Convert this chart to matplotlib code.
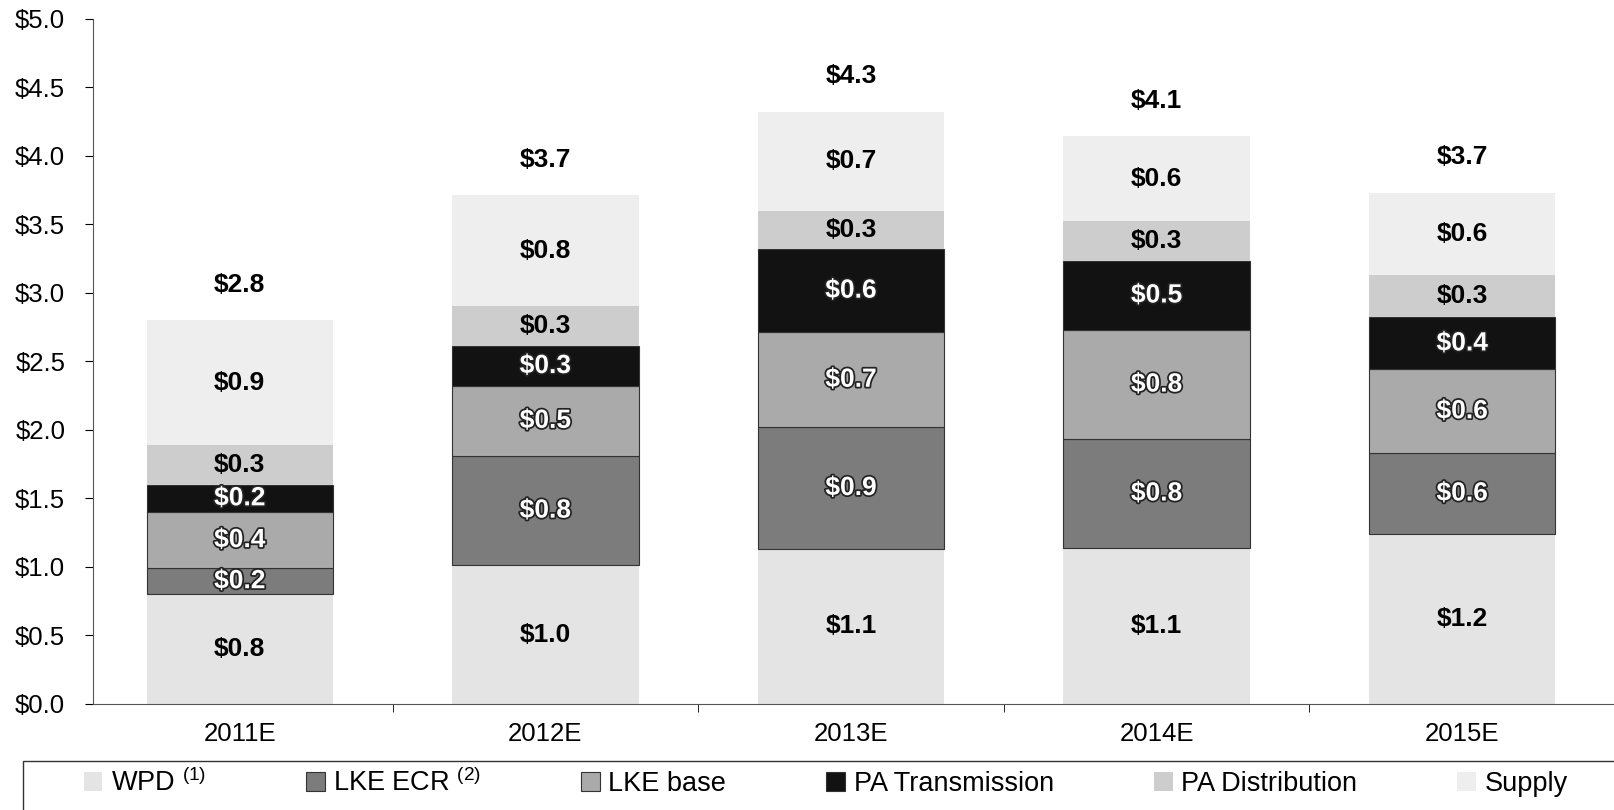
import matplotlib
matplotlib.use("Agg")
import matplotlib.pyplot as plt
import matplotlib.patheffects as pe
from matplotlib.patches import Rectangle
import numpy as np

plt.rcParams['font.family'] = ['Liberation Sans', 'DejaVu Sans']
plt.rcParams['mathtext.fontset'] = 'custom'
plt.rcParams['mathtext.rm'] = 'Liberation Sans'

years = ['2011E', '2012E', '2013E', '2014E', '2015E']
series = ['WPD $^{(1)}$', 'LKE ECR $^{(2)}$', 'LKE base', 'PA Transmission', 'PA Distribution', 'Supply']
wpd = [0.80, 1.01, 1.13, 1.14, 1.24]
lke_ecr = [0.19, 0.80, 0.89, 0.79, 0.59]
lke_base = [0.41, 0.51, 0.69, 0.80, 0.61]
pa_trans = [0.20, 0.29, 0.61, 0.50, 0.38]
pa_dist = [0.29, 0.29, 0.28, 0.29, 0.31]
supply = [0.91, 0.81, 0.72, 0.62, 0.60]
totals = [2.8, 3.7, 4.3, 4.1, 3.7]

colors = ['#e4e4e4', '#7c7c7c', '#aaaaaa', '#121212', '#cdcdcd', '#eeeeee']
text_dark = [True, False, False, False, True, True]

fig = plt.figure(figsize=(16.15, 8.1), dpi=100)
ax = fig.add_axes([0.0576, 0.131, 0.9424, 0.846])

x = np.arange(len(years))
bottom = np.zeros(len(years))
data = [wpd, lke_ecr, lke_base, pa_trans, pa_dist, supply]
handles = []
for vals, col, dark, name in zip(data, colors, text_dark, series):
    vals = np.array(vals)
    ec = '#333333' if name in ('LKE ECR $^{(2)}$', 'LKE base', 'PA Transmission') else 'none'
    b = ax.bar(x, vals, 0.61, bottom=bottom, color=col, edgecolor=ec, linewidth=0.8, label=name)
    handles.append(b)
    for xi, v, bt in zip(x, vals, bottom):
        if dark:
            ax.text(xi, bt + v / 2, '$%.1f' % v, ha='center', va='center',
                    fontsize=19, fontweight='bold', color='black')
        else:
            ax.text(xi, bt + v / 2, '$%.1f' % v, ha='center', va='center',
                    fontsize=19, fontweight='bold', color='white',
                    path_effects=[pe.withStroke(linewidth=2.5, foreground='#222222')])
    bottom = bottom + vals

for xi, t, top in zip(x, totals, bottom):
    ax.text(xi, top + 0.26, '$%.1f' % t, ha='center', va='center',
            fontsize=19, fontweight='bold', color='black')

ax.set_xlim(-0.48, 4.5)
ax.set_ylim(0, 5)
ax.set_yticks(np.arange(0, 5.01, 0.5))
ax.set_yticklabels(['$%.1f' % v for v in np.arange(0, 5.01, 0.5)], fontsize=18.5)
ax.set_xticks(x)
ax.set_xticklabels(years, fontsize=18.5)
ax.set_xticks([0.5, 1.5, 2.5, 3.5], minor=True)
ax.tick_params(axis='x', which='major', length=0, pad=13)
ax.tick_params(axis='x', which='minor', length=6, direction='out')
ax.tick_params(axis='y', length=6, direction='out', pad=14)
ax.spines['top'].set_visible(False)
ax.spines['right'].set_visible(False)
ax.spines['left'].set_color('#555555')
ax.spines['bottom'].set_color('#555555')

# legend box across the bottom
fig.patches.append(Rectangle((0.014, -0.01), 1.0, 0.07, transform=fig.transFigure,
                             facecolor='none', edgecolor='#333333', linewidth=1.0))
leg = fig.legend(handles=handles, labels=series, loc='center left',
                 bbox_to_anchor=(0.045, 0.034), ncol=6, fontsize=19.5,
                 frameon=False, handlelength=0.7, handleheight=0.7,
                 handletextpad=0.3, columnspacing=3.7, borderaxespad=0)

fig.savefig('out.png', dpi=100)
